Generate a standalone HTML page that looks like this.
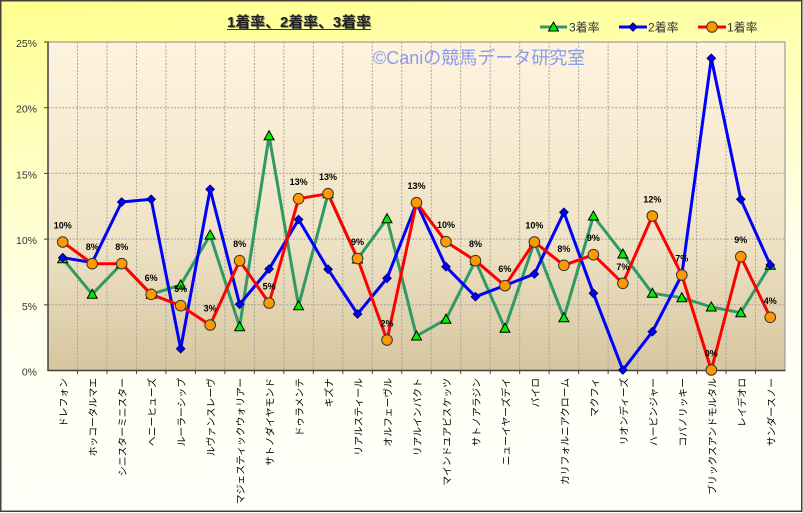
<!DOCTYPE html>
<html><head><meta charset="utf-8">
<style>
html,body{margin:0;padding:0;background:#fff;}
svg{display:block;}
text{font-family:"Liberation Sans","Noto Sans CJK JP",sans-serif;}
</style></head>
<body>
<svg width="803" height="513" viewBox="0 0 803 513" xmlns="http://www.w3.org/2000/svg">
<defs>
<linearGradient id="bg" x1="0" y1="0" x2="0.15" y2="1">
<stop offset="0" stop-color="#ffff8c"/>
<stop offset="0.35" stop-color="#ffffc8"/>
<stop offset="0.65" stop-color="#fffff0"/>
<stop offset="1" stop-color="#fffffa"/>
</linearGradient>
<linearGradient id="pg" x1="0" y1="0" x2="0" y2="1">
<stop offset="0" stop-color="#fef3de"/>
<stop offset="0.6" stop-color="#efe3c6"/>
<stop offset="1" stop-color="#d6c69f"/>
</linearGradient>
<polygon id="tri" points="0,-5 5,4 -5,4" fill="#00ee00" stroke="#000" stroke-width="1"/>
<polygon id="dia" points="0,-4.2 4.2,0 0,4.2 -4.2,0" fill="#0000ff" stroke="#000066" stroke-width="1"/>
<circle id="cir" r="5.3" fill="#ff9900" stroke="#333" stroke-width="1"/>
</defs>
<rect x="0" y="0" width="803" height="513" fill="#fff"/>
<rect x="0.75" y="0.75" width="801" height="510.5" fill="url(#bg)" stroke="#404040" stroke-width="1.5"/>

<!-- plot area -->
<rect x="48" y="42" width="737" height="328.5" fill="url(#pg)" stroke="#8a8a8a" stroke-width="1"/>
<g stroke="#a8a49a" stroke-width="1" stroke-dasharray="2,1.5">
<line x1="48" y1="107.7" x2="785" y2="107.7"/>
<line x1="48" y1="173.4" x2="785" y2="173.4"/>
<line x1="48" y1="239.1" x2="785" y2="239.1"/>
<line x1="48" y1="304.8" x2="785" y2="304.8"/>
<line x1="77.48" y1="42" x2="77.48" y2="370"/>
<line x1="106.96" y1="42" x2="106.96" y2="370"/>
<line x1="136.44" y1="42" x2="136.44" y2="370"/>
<line x1="165.92" y1="42" x2="165.92" y2="370"/>
<line x1="195.4" y1="42" x2="195.4" y2="370"/>
<line x1="224.88" y1="42" x2="224.88" y2="370"/>
<line x1="254.36" y1="42" x2="254.36" y2="370"/>
<line x1="283.84" y1="42" x2="283.84" y2="370"/>
<line x1="313.32" y1="42" x2="313.32" y2="370"/>
<line x1="342.8" y1="42" x2="342.8" y2="370"/>
<line x1="372.28" y1="42" x2="372.28" y2="370"/>
<line x1="401.76" y1="42" x2="401.76" y2="370"/>
<line x1="431.24" y1="42" x2="431.24" y2="370"/>
<line x1="460.72" y1="42" x2="460.72" y2="370"/>
<line x1="490.2" y1="42" x2="490.2" y2="370"/>
<line x1="519.68" y1="42" x2="519.68" y2="370"/>
<line x1="549.16" y1="42" x2="549.16" y2="370"/>
<line x1="578.64" y1="42" x2="578.64" y2="370"/>
<line x1="608.12" y1="42" x2="608.12" y2="370"/>
<line x1="637.6" y1="42" x2="637.6" y2="370"/>
<line x1="667.08" y1="42" x2="667.08" y2="370"/>
<line x1="696.56" y1="42" x2="696.56" y2="370"/>
<line x1="726.04" y1="42" x2="726.04" y2="370"/>
<line x1="755.52" y1="42" x2="755.52" y2="370"/>
</g>
<!-- axes -->
<g stroke="#404040" stroke-width="1.5">
<line x1="48" y1="41.5" x2="48" y2="371"/>
<line x1="47.5" y1="370.5" x2="785.5" y2="370.5"/>
</g>
<g stroke="#404040" stroke-width="1">
<line x1="44" y1="42" x2="48" y2="42"/>
<line x1="44" y1="107.7" x2="48" y2="107.7"/>
<line x1="44" y1="173.4" x2="48" y2="173.4"/>
<line x1="44" y1="239.1" x2="48" y2="239.1"/>
<line x1="44" y1="304.8" x2="48" y2="304.8"/>
<line x1="77.48" y1="370" x2="77.48" y2="374"/>
<line x1="106.96" y1="370" x2="106.96" y2="374"/>
<line x1="136.44" y1="370" x2="136.44" y2="374"/>
<line x1="165.92" y1="370" x2="165.92" y2="374"/>
<line x1="195.4" y1="370" x2="195.4" y2="374"/>
<line x1="224.88" y1="370" x2="224.88" y2="374"/>
<line x1="254.36" y1="370" x2="254.36" y2="374"/>
<line x1="283.84" y1="370" x2="283.84" y2="374"/>
<line x1="313.32" y1="370" x2="313.32" y2="374"/>
<line x1="342.8" y1="370" x2="342.8" y2="374"/>
<line x1="372.28" y1="370" x2="372.28" y2="374"/>
<line x1="401.76" y1="370" x2="401.76" y2="374"/>
<line x1="431.24" y1="370" x2="431.24" y2="374"/>
<line x1="460.72" y1="370" x2="460.72" y2="374"/>
<line x1="490.2" y1="370" x2="490.2" y2="374"/>
<line x1="519.68" y1="370" x2="519.68" y2="374"/>
<line x1="549.16" y1="370" x2="549.16" y2="374"/>
<line x1="578.64" y1="370" x2="578.64" y2="374"/>
<line x1="608.12" y1="370" x2="608.12" y2="374"/>
<line x1="637.6" y1="370" x2="637.6" y2="374"/>
<line x1="667.08" y1="370" x2="667.08" y2="374"/>
<line x1="696.56" y1="370" x2="696.56" y2="374"/>
<line x1="726.04" y1="370" x2="726.04" y2="374"/>
<line x1="755.52" y1="370" x2="755.52" y2="374"/>
</g>

<!-- y labels -->
<g font-size="10.5" fill="#333" text-anchor="end">
<text x="37" y="47">25%</text>
<text x="37" y="112.7">20%</text>
<text x="37" y="178.4">15%</text>
<text x="37" y="244.1">10%</text>
<text x="37" y="309.8">5%</text>
<text x="37" y="375.5">0%</text>
</g>

<!-- watermark -->
<text x="373" y="64" font-size="18" fill="#8a9bef">©Caniの競馬データ研究室</text>

<!-- title -->
<text x="300" y="28" font-size="15" font-weight="bold" fill="#8c9470" text-anchor="middle" textLength="144" lengthAdjust="spacingAndGlyphs">1着率、2着率、3着率</text>
<text x="299" y="27" font-size="15" font-weight="bold" fill="#222" text-anchor="middle" textLength="144" lengthAdjust="spacingAndGlyphs">1着率、2着率、3着率</text>
<line x1="227" y1="29.5" x2="371" y2="29.5" stroke="#333" stroke-width="1"/>

<!-- legend -->
<line x1="540" y1="27" x2="567" y2="27" stroke="#2f9a64" stroke-width="3"/>
<use href="#tri" x="553.5" y="27"/>
<text x="569" y="31.5" font-size="12" fill="#333">3着率</text>
<line x1="619" y1="27" x2="647" y2="27" stroke="#0000ff" stroke-width="3"/>
<use href="#dia" x="633" y="27"/>
<text x="648" y="31.5" font-size="12" fill="#333">2着率</text>
<line x1="698" y1="27" x2="726" y2="27" stroke="#ff0000" stroke-width="3"/>
<use href="#cir" x="712" y="27"/>
<text x="727" y="31.5" font-size="12" fill="#333">1着率</text>

<!-- series: green (3着率) -->
<polyline fill="none" stroke="#2f9a64" stroke-width="3" stroke-linejoin="round" points="62.74,258.7 92.22,294.3 121.70,263.7 151.18,294.3 180.66,285 210.14,235 239.62,326.7 269.10,135.7 298.58,305.7 328.06,193.7 357.54,259 387.02,218.7 416.50,336 445.98,319.3 475.46,260.7 504.94,328.3 534.42,242 563.90,317.7 593.38,216 622.86,254 652.34,293.3 681.82,297.7 711.30,307 740.78,312.7 770.26,265.3"/>
<g>
<use href="#tri" x="62.74" y="258.7"/><use href="#tri" x="92.22" y="294.3"/><use href="#tri" x="121.70" y="263.7"/><use href="#tri" x="151.18" y="294.3"/><use href="#tri" x="180.66" y="285"/><use href="#tri" x="210.14" y="235"/><use href="#tri" x="239.62" y="326.7"/><use href="#tri" x="269.10" y="135.7"/><use href="#tri" x="298.58" y="305.7"/><use href="#tri" x="328.06" y="193.7"/><use href="#tri" x="357.54" y="259"/><use href="#tri" x="387.02" y="218.7"/><use href="#tri" x="416.50" y="336"/><use href="#tri" x="445.98" y="319.3"/><use href="#tri" x="475.46" y="260.7"/><use href="#tri" x="504.94" y="328.3"/><use href="#tri" x="534.42" y="242"/><use href="#tri" x="563.90" y="317.7"/><use href="#tri" x="593.38" y="216"/><use href="#tri" x="622.86" y="254"/><use href="#tri" x="652.34" y="293.3"/><use href="#tri" x="681.82" y="297.7"/><use href="#tri" x="711.30" y="307"/><use href="#tri" x="740.78" y="312.7"/><use href="#tri" x="770.26" y="265.3"/>
</g>

<!-- series: blue (2着率) -->
<polyline fill="none" stroke="#0000ff" stroke-width="3" stroke-linejoin="round" points="62.74,257.7 92.22,262.5 121.70,202 151.18,199.3 180.66,348.7 210.14,189.3 239.62,304.3 269.10,269 298.58,219.5 328.06,269.3 357.54,314 387.02,278.3 416.50,203 445.98,266.7 475.46,296.7 504.94,285.5 534.42,274 563.90,212.3 593.38,293.3 622.86,370 652.34,331.7 681.82,275 711.30,58.3 740.78,199.3 770.26,265"/>
<g>
<use href="#dia" x="62.74" y="257.7"/><use href="#dia" x="92.22" y="262.5"/><use href="#dia" x="121.70" y="202"/><use href="#dia" x="151.18" y="199.3"/><use href="#dia" x="180.66" y="348.7"/><use href="#dia" x="210.14" y="189.3"/><use href="#dia" x="239.62" y="304.3"/><use href="#dia" x="269.10" y="269"/><use href="#dia" x="298.58" y="219.5"/><use href="#dia" x="328.06" y="269.3"/><use href="#dia" x="357.54" y="314"/><use href="#dia" x="387.02" y="278.3"/><use href="#dia" x="416.50" y="203"/><use href="#dia" x="445.98" y="266.7"/><use href="#dia" x="475.46" y="296.7"/><use href="#dia" x="504.94" y="285.5"/><use href="#dia" x="534.42" y="274"/><use href="#dia" x="563.90" y="212.3"/><use href="#dia" x="593.38" y="293.3"/><use href="#dia" x="622.86" y="370"/><use href="#dia" x="652.34" y="331.7"/><use href="#dia" x="681.82" y="275"/><use href="#dia" x="711.30" y="58.3"/><use href="#dia" x="740.78" y="199.3"/><use href="#dia" x="770.26" y="265"/>
</g>

<!-- series: red (1着率) -->
<polyline fill="none" stroke="#ff0000" stroke-width="3" stroke-linejoin="round" points="62.74,242 92.22,263.7 121.70,263.7 151.18,294.3 180.66,305.7 210.14,325 239.62,260.7 269.10,303 298.58,198.7 328.06,193.7 357.54,258.5 387.02,340 416.50,202.7 445.98,241.7 475.46,260.7 504.94,285.7 534.42,242 563.90,265.3 593.38,254.7 622.86,283.3 652.34,216 681.82,275 711.30,370 740.78,256.7 770.26,317.3"/>
<g>
<use href="#cir" x="62.74" y="242"/><use href="#cir" x="92.22" y="263.7"/><use href="#cir" x="121.70" y="263.7"/><use href="#cir" x="151.18" y="294.3"/><use href="#cir" x="180.66" y="305.7"/><use href="#cir" x="210.14" y="325"/><use href="#cir" x="239.62" y="260.7"/><use href="#cir" x="269.10" y="303"/><use href="#cir" x="298.58" y="198.7"/><use href="#cir" x="328.06" y="193.7"/><use href="#cir" x="357.54" y="258.5"/><use href="#cir" x="387.02" y="340"/><use href="#cir" x="416.50" y="202.7"/><use href="#cir" x="445.98" y="241.7"/><use href="#cir" x="475.46" y="260.7"/><use href="#cir" x="504.94" y="285.7"/><use href="#cir" x="534.42" y="242"/><use href="#cir" x="563.90" y="265.3"/><use href="#cir" x="593.38" y="254.7"/><use href="#cir" x="622.86" y="283.3"/><use href="#cir" x="652.34" y="216"/><use href="#cir" x="681.82" y="275"/><use href="#cir" x="711.30" y="370"/><use href="#cir" x="740.78" y="256.7"/><use href="#cir" x="770.26" y="317.3"/>
</g>

<!-- data labels -->
<g font-size="9" font-weight="bold" fill="#000" text-anchor="middle">
<text x="62.74" y="228.5">10%</text>
<text x="92.22" y="250.2">8%</text>
<text x="121.70" y="250.2">8%</text>
<text x="151.18" y="280.8">6%</text>
<text x="180.66" y="292.2">5%</text>
<text x="210.14" y="311.5">3%</text>
<text x="239.62" y="247.2">8%</text>
<text x="269.10" y="289.5">5%</text>
<text x="298.58" y="185.2">13%</text>
<text x="328.06" y="180.2">13%</text>
<text x="357.54" y="245">9%</text>
<text x="387.02" y="326.5">2%</text>
<text x="416.50" y="189.2">13%</text>
<text x="445.98" y="228.2">10%</text>
<text x="475.46" y="247.2">8%</text>
<text x="504.94" y="272.2">6%</text>
<text x="534.42" y="228.5">10%</text>
<text x="563.90" y="251.8">8%</text>
<text x="593.38" y="241.2">9%</text>
<text x="622.86" y="269.8">7%</text>
<text x="652.34" y="202.5">12%</text>
<text x="681.82" y="261.5">7%</text>
<text x="711.30" y="356.5">0%</text>
<text x="740.78" y="243.2">9%</text>
<text x="770.26" y="303.8">4%</text>
</g>

<!-- x labels -->
<g font-size="9.8" fill="#000" text-anchor="end">
<text transform="translate(67.24,378) rotate(-90)">ドレフォン</text>
<text transform="translate(96.72,378) rotate(-90)">ホッコータルマエ</text>
<text transform="translate(126.20,378) rotate(-90)">シニスターミニスター</text>
<text transform="translate(155.68,378) rotate(-90)">ヘニーヒューズ</text>
<text transform="translate(185.16,378) rotate(-90)">ルーラーシップ</text>
<text transform="translate(214.64,378) rotate(-90)">ルヴァンスレーヴ</text>
<text transform="translate(244.12,378) rotate(-90)">マジェスティックウォリアー</text>
<text transform="translate(273.60,378) rotate(-90)">サトノダイヤモンド</text>
<text transform="translate(303.08,378) rotate(-90)">ドゥラメンテ</text>
<text transform="translate(332.56,378) rotate(-90)">キズナ</text>
<text transform="translate(362.04,378) rotate(-90)">リアルスティール</text>
<text transform="translate(391.52,378) rotate(-90)">オルフェーヴル</text>
<text transform="translate(421.00,378) rotate(-90)">リアルインパクト</text>
<text transform="translate(450.48,378) rotate(-90)">マインドユアビスケッツ</text>
<text transform="translate(479.96,378) rotate(-90)">サトノアラジン</text>
<text transform="translate(509.44,378) rotate(-90)">ニューイヤーズデイ</text>
<text transform="translate(538.92,378) rotate(-90)">パイロ</text>
<text transform="translate(568.40,378) rotate(-90)">カリフォルニアクローム</text>
<text transform="translate(597.88,378) rotate(-90)">マクフィ</text>
<text transform="translate(627.36,378) rotate(-90)">リオンディーズ</text>
<text transform="translate(656.84,378) rotate(-90)">ハービンジャー</text>
<text transform="translate(686.32,378) rotate(-90)">コパノリッキー</text>
<text transform="translate(715.80,378) rotate(-90)">ブリックスアンドモルタル</text>
<text transform="translate(745.28,378) rotate(-90)">レイデオロ</text>
<text transform="translate(774.76,378) rotate(-90)">サンダースノー</text>
</g>
</svg>
</body></html>
